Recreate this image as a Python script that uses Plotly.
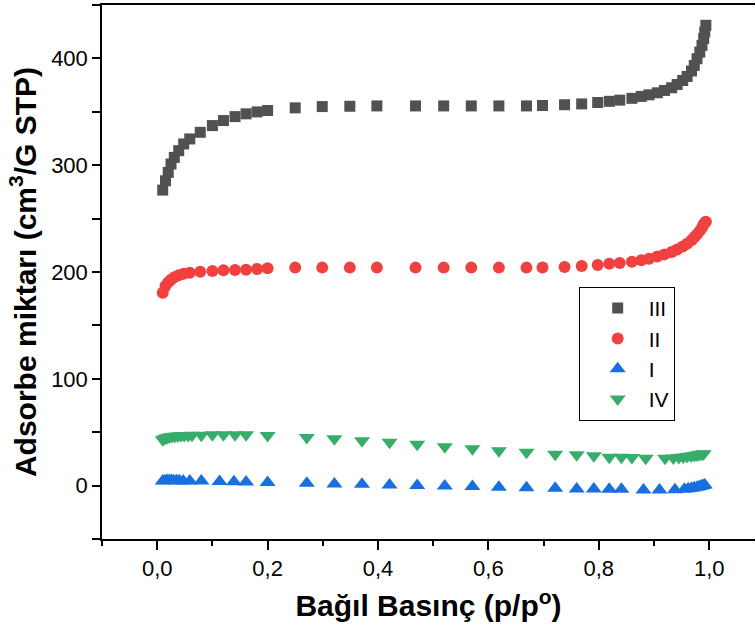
import plotly.graph_objects as go

# ---- data ----
x_III = [0.010, 0.015, 0.020, 0.025, 0.031, 0.039, 0.048, 0.059, 0.078, 0.100, 0.120, 0.141, 0.161,
         0.181, 0.200, 0.250, 0.299, 0.349, 0.398, 0.468, 0.519, 0.569, 0.619, 0.669, 0.698, 0.738,
         0.769, 0.798, 0.819, 0.838, 0.860, 0.877, 0.891, 0.906, 0.919, 0.932, 0.942, 0.952, 0.960,
         0.968, 0.973, 0.978, 0.983, 0.987, 0.990, 0.992, 0.994]
y_III = [276.7, 285.4, 293.3, 301.1, 307.3, 313.6, 319.9, 324.6, 330.8, 337.1, 341.8, 345.5, 348.1,
         349.9, 351.2, 353.7, 354.9, 355.2, 355.5, 355.5, 355.5, 355.5, 355.5, 355.5, 355.9, 356.6,
         357.4, 358.7, 359.8, 360.9, 362.6, 364.4, 365.9, 367.8, 370.0, 372.5, 375.6, 379.3, 383.1,
         388.2, 393.4, 399.7, 405.9, 412.2, 418.5, 424.7, 431.0]

x_II = x_III
y_II = [180.6, 186.9, 190.5, 192.8, 195.0, 197.0, 198.3, 199.4, 200.3, 200.9, 201.6, 201.9, 202.2,
        202.8, 203.5, 204.1, 204.1, 204.1, 204.1, 204.1, 204.1, 204.1, 204.1, 204.1, 204.3, 204.7,
        205.6, 206.6, 207.8, 208.5, 209.7, 211.0, 212.5, 214.5, 216.5, 218.8, 221.0, 223.8, 226.5,
        229.8, 232.5, 235.4, 238.5, 241.5, 244.8, 246.0, 247.0]

x_I = [0.010, 0.014, 0.018, 0.022, 0.026, 0.030, 0.035, 0.040, 0.047, 0.059, 0.080, 0.113, 0.139,
       0.161, 0.200, 0.271, 0.321, 0.371, 0.421, 0.471, 0.521, 0.571, 0.619, 0.669, 0.721, 0.760,
       0.791, 0.819, 0.841, 0.881, 0.910, 0.938, 0.955, 0.962, 0.968, 0.973, 0.978, 0.982, 0.986,
       0.989, 0.992]
y_I = [4.4, 4.6, 4.7, 4.7, 4.7, 4.6, 4.6, 4.5, 4.4, 4.4, 4.2, 3.8, 3.6,
       3.4, 2.8, 2.2, 1.6, 1.2, 0.6, 0.0, -0.3, -0.9, -1.6, -1.9, -2.5, -3.1,
       -3.1, -3.4, -3.4, -4.1, -4.1, -3.8, -3.4, -3.0, -2.5, -2.0, -1.5, -0.9, -0.3,
       0.2, 0.6]

x_IV = [0.010, 0.014, 0.018, 0.022, 0.027, 0.032, 0.037, 0.043, 0.049, 0.056, 0.063, 0.080, 0.100,
        0.120, 0.141, 0.161, 0.200, 0.271, 0.321, 0.371, 0.421, 0.471, 0.521, 0.571, 0.619, 0.669,
        0.721, 0.760, 0.791, 0.819, 0.841, 0.860, 0.885, 0.920, 0.935, 0.945, 0.953, 0.960, 0.967,
        0.973, 0.978, 0.983, 0.987, 0.990]
y_IV = [43.0, 44.0, 44.8, 45.4, 45.9, 46.2, 46.5, 46.7, 46.9, 47.0, 47.1, 47.2, 47.6,
        47.6, 47.6, 47.6, 46.9, 45.1, 43.8, 42.0, 40.7, 38.8, 36.3, 34.4, 32.6, 31.3,
        29.4, 28.8, 27.9, 26.6, 26.6, 26.3, 25.6, 25.6, 25.9, 26.3, 26.8, 27.2, 27.7,
        28.2, 28.7, 29.1, 29.5, 29.8]

x_ticks = [0.0, 0.2, 0.4, 0.6, 0.8, 1.0]
y_ticks = [0, 100, 200, 300, 400]

series = [
    ("III", x_III, y_III, "square", "#515151", 11),
    ("II", x_II, y_II, "circle", "#F14040", 12),
    ("I", x_I, y_I, "triangle-up", "#1A6FDF", 14),
    ("IV", x_IV, y_IV, "triangle-down", "#37AD6B", 14),
]

fig = go.Figure()
for name, xs, ys, sym, col, sz in series:
    fig.add_trace(go.Scatter(x=xs, y=ys, mode="markers", name=name,
                             marker=dict(symbol=sym, color=col, size=sz, line=dict(width=0))))

font = "Liberation Sans, Arial, sans-serif"
axis_common = dict(showgrid=False, zeroline=False, showline=True, linecolor="black", linewidth=1.5,
                   ticks="outside", tickcolor="black", tickwidth=1.5,
                   tickfont=dict(family=font, size=22, color="black"))

fig.update_layout(
    width=755, height=636,
    margin=dict(l=102, r=0, t=5, b=97),
    paper_bgcolor="white", plot_bgcolor="white",
    separators=", ",
    showlegend=True,
    legend=dict(x=0.730, y=0.472, xanchor="left", yanchor="top",
                bordercolor="black", borderwidth=1, bgcolor="white",
                font=dict(family=font, size=21, color="black"),
                itemwidth=52, indentation=7),
    xaxis=dict(range=[-0.1, 1.083], tickvals=x_ticks, tickformat=".1f", ticklen=9,
               mirror=True,
               minor=dict(dtick=0.1, tick0=0, ticks="outside", ticklen=5, tickcolor="black", tickwidth=1.5),
               title=dict(text="<b>Bağıl Basınç (p/p<sup>o</sup>)</b>",
                          font=dict(family=font, size=30, color="black"), standoff=15),
               **axis_common),
    yaxis=dict(range=[-50, 450], tickvals=y_ticks, ticklen=8,
               minor=dict(dtick=50, tick0=0, ticks="outside", ticklen=8, tickcolor="black", tickwidth=1.5),
               title=dict(text="<b>Adsorbe miktarı (cm<sup>3</sup>/G STP)</b>",
                          font=dict(family=font, size=30, color="black"), standoff=6),
               **axis_common),
)

fig.write_html("out.html")
